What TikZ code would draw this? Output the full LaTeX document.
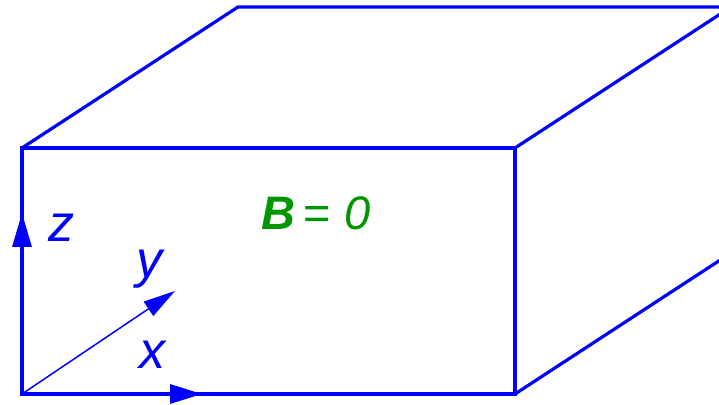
\documentclass[tikz,border=0pt]{standalone}
\usepackage{fontspec}
\setmainfont{Liberation Sans}
\usetikzlibrary{arrows.meta}
\definecolor{boxBlue}{HTML}{0000FF}
\definecolor{fieldGreen}{HTML}{009600}

\begin{document}
\begin{tikzpicture}[x=0.5pt, y=0.5pt]
    \useasboundingbox (0,0) rectangle (719,405);
    \clip (0,0) rectangle (719,405);

    \coordinate (orig) at (22,11);
    \coordinate (fbr) at (515,11);
    \coordinate (ftr) at (515,257);
    \coordinate (ftl) at (22,257);
    \coordinate (btl) at (238,398);
    \coordinate (btr) at (731,398);
    \coordinate (bbr) at (731,152);

    \draw[boxBlue, line width=1.6pt] (orig) rectangle (ftr);
    \draw[boxBlue, line width=1.6pt] (ftl) -- (btl) -- (btr) -- (ftr);
    \draw[boxBlue, line width=1.6pt] (fbr) -- (bbr);

    \coordinate (zend) at (22,192);
    \coordinate (xend) at (202,11);
    \coordinate (yend) at (175,114);
    \draw[boxBlue, line width=1.6pt, -{Triangle[length=17pt, width=9.5pt]}] (orig) -- (zend);
    \draw[boxBlue, line width=1.6pt, -{Triangle[length=16pt, width=9.5pt]}] (orig) -- (xend);
    \draw[boxBlue, line width=0.75pt, -{Triangle[length=16pt, width=8.5pt]}] (orig) -- (yend);

    \node[text=boxBlue, font=\fontsize{26}{30}\selectfont\itshape, anchor=base, inner sep=0pt] (zlab) at (61,163) {z};
    \node[text=boxBlue, font=\fontsize{26}{30}\selectfont\itshape, anchor=base, inner sep=0pt] (xlab) at (153,36) {x};
    \node[text=boxBlue, font=\fontsize{26}{30}\selectfont\itshape, anchor=base, inner sep=0pt] (ylab) at (149,127) {y};

    \node[text=fieldGreen, font=\fontsize{23.5}{28}\selectfont, anchor=base, inner sep=0pt] (field) at (316,175)
      {{\bfseries\itshape B}\,= {\itshape 0}};
  \end{tikzpicture}
\end{document}
